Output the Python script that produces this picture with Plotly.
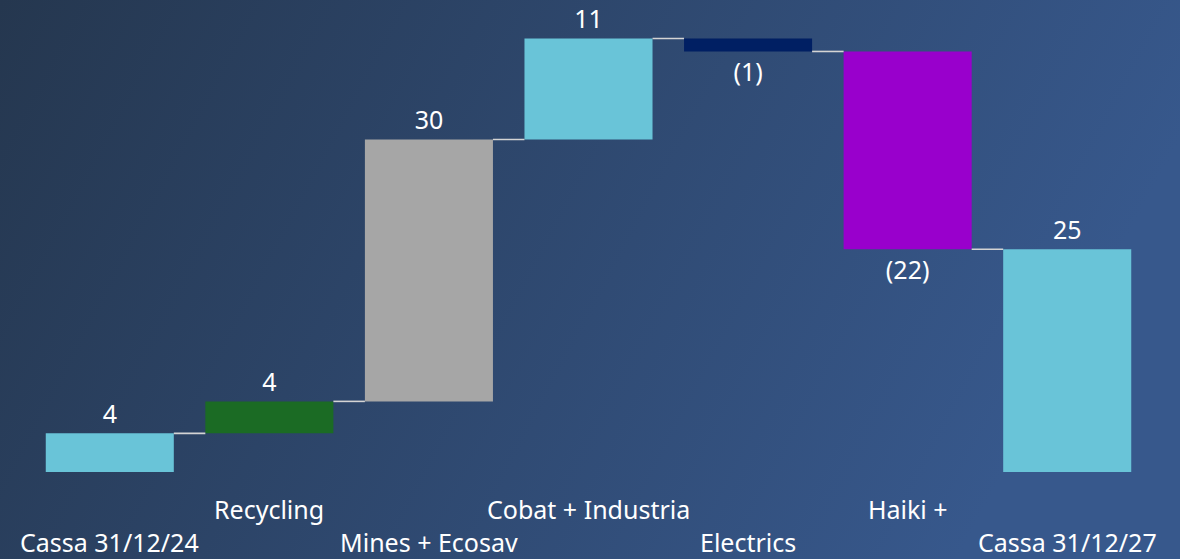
import base64
import plotly.graph_objects as go

categories = ["Cassa 31/12/24", "Recycling", "Mines + Ecosav", "Cobat + Industria",
              "Electrics", "Haiki +", "Cassa 31/12/27"]
deltas = [4.34, 3.59, 29.41, 11.34, -1.46, -22.2]
final_total = 25.0
value_labels = ["4", "4", "30", "11", "(1)", "(22)", "25"]
bar_colors = ["#69C4D8", "#1B6B24", "#A6A6A6", "#69C4D8", "#001F63", "#9900CC", "#69C4D8"]

# running totals
bases, heights, levels = [], [], []
run = 0.0
for i, d in enumerate(deltas):
    bases.append(run)
    heights.append(d)
    run += d
    levels.append(run)
bases.append(0.0)
heights.append(final_total)
levels.append(final_total)

xs = list(range(len(categories)))
BW = 0.8025
FONT = "Noto Sans"
FS = 25

fig = go.Figure()

# connectors
cx, cy = [], []
for i in range(len(categories) - 1):
    cx += [i + BW / 2, i + 1 - BW / 2, None]
    cy += [levels[i], levels[i], None]
fig.add_trace(go.Scatter(x=cx, y=cy, mode="lines", line=dict(color="#D4D4D4", width=1.6),
                         hoverinfo="skip", showlegend=False))

fig.add_trace(go.Bar(
    x=xs, y=heights, base=bases, width=BW,
    marker=dict(color=bar_colors, line=dict(width=0)),
    text=value_labels, textposition="outside", cliponaxis=False,
    constraintext="none",
    textfont=dict(color="#FFFFFF", size=FS, family=FONT),
    showlegend=False,
))

# staggered category labels
annos = []
for i, c in enumerate(categories):
    upper = (i % 2 == 1)
    annos.append(dict(x=i, xref="x", y=0, yref="paper", text=c, showarrow=False,
                      xanchor="center", yanchor="middle",
                      yshift=-37 if upper else -70,
                      font=dict(color="#FFFFFF", size=FS, family=FONT)))

svg = ('<svg xmlns="http://www.w3.org/2000/svg" width="1180" height="559">'
       '<defs><linearGradient id="g" x1="0" y1="0" x2="1" y2="0.25">'
       '<stop offset="0" stop-color="#25374F"/><stop offset="1" stop-color="#37588C"/>'
       '</linearGradient></defs><rect width="1180" height="559" fill="url(#g)"/></svg>')
src = "data:image/svg+xml;base64," + base64.b64encode(svg.encode()).decode()

fig.update_layout(
    width=1180, height=559,
    margin=dict(l=30, r=33, t=0, b=87),
    paper_bgcolor="#2D4466", plot_bgcolor="rgba(0,0,0,0)",
    images=[dict(source=src, xref="paper", yref="paper", x=-30 / 1117, y=1.0,
                 sizex=1180 / 1117, sizey=559 / 472, xanchor="left", yanchor="top",
                 sizing="stretch", layer="below")],
    xaxis=dict(range=[-0.5, 6.5], showgrid=False, zeroline=False, showticklabels=False,
               showline=False, fixedrange=True),
    yaxis=dict(range=[0, 53], showgrid=False, zeroline=False, showticklabels=False,
               showline=False),
    annotations=annos,
    font=dict(family=FONT, color="#FFFFFF"),
    bargap=0.2,
)

fig.write_html("out.html", config={"displayModeBar": False},
               post_script="document.body.style.margin='0';document.body.style.background='#2D4466';")
